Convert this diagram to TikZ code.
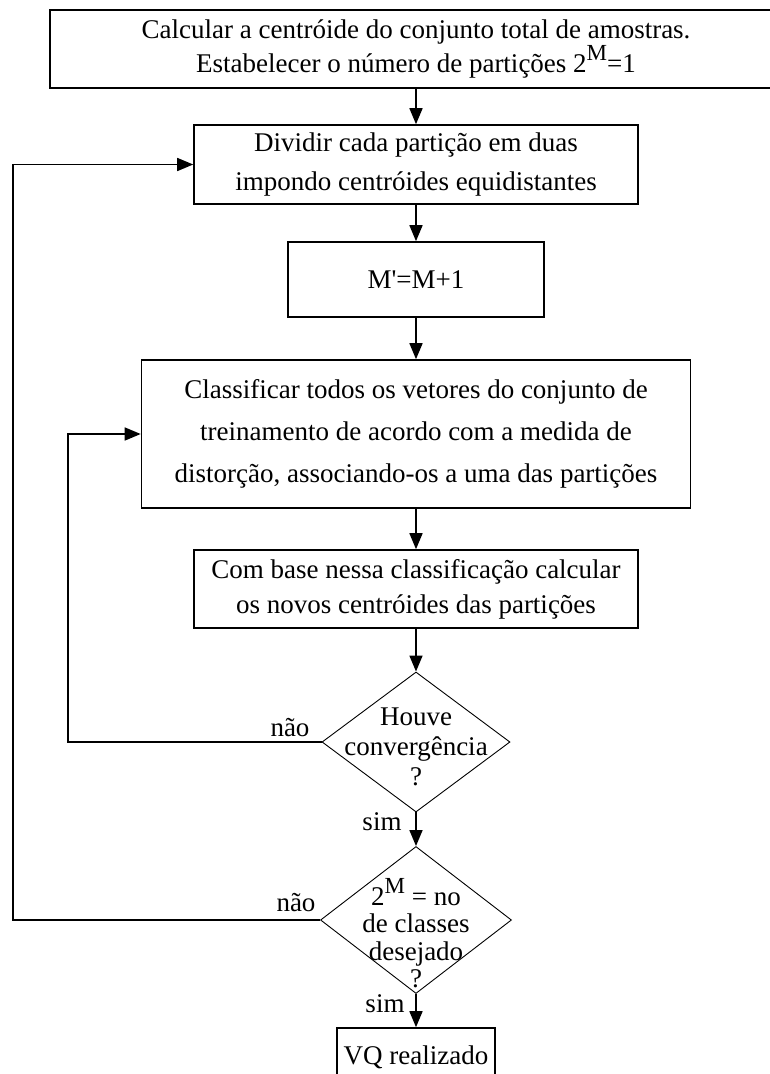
\documentclass[tikz,border=0pt]{standalone}
\usepackage{fontspec}
\setmainfont{Liberation Serif}
\newfontfamily\plainserif{Liberation Serif}
\usetikzlibrary{arrows.meta,shapes.geometric}
\newcommand{\supM}{\raisebox{0.45em}{\fontsize{23}{23}\selectfont M}}
\begin{document}
\begin{tikzpicture}[x=1pt,y=-1pt,
  box/.style={draw,line width=1.6pt,inner sep=0pt,align=center},
  dia/.style={draw,diamond,line width=0.9pt,inner sep=0pt},
  txt/.style={inner sep=0pt,align=center},
  arr/.style={line width=1.6pt,-{Triangle[length=16pt,width=13pt]}},
  lbl/.style={inner sep=0pt,font=\fontsize{27}{30}\selectfont}]
\useasboundingbox (0,0) rectangle (770,1074);
\clip (0,0) rectangle (770,1074);

\node[box,minimum width=732pt,minimum height=78pt,font=\fontsize{27}{26}\selectfont] (top) at (416,49)
  {Calcular a centróide do conjunto total de amostras.\\Estabelecer o número de partições 2\supM=1};
\node[box,minimum width=444pt,minimum height=79pt,font=\fontsize{27}{39}\selectfont] (div) at (416,164.5)
  {Dividir cada partição em duas\\impondo centróides equidistantes};
\node[box,minimum width=256pt,minimum height=75pt,font=\fontsize{27}{30}\selectfont] (mm) at (416,279.5)
  {M{\plainserif '}=M+1};
\node[box,minimum width=549pt,minimum height=148pt,font=\fontsize{27}{42}\selectfont] (cls) at (416,434)
  {Classificar todos os vetores do conjunto de\\treinamento de acordo com a medida de\\distorção, associando-os a uma das partições};
\node[box,minimum width=444pt,minimum height=78pt,font=\fontsize{27}{35}\selectfont] (cb) at (416,589)
  {Com base nessa classificação calcular\\os novos centróides das partições};

\node[dia,minimum width=188pt,minimum height=140pt] (d1) at (416,742) {};
\node[txt,font=\fontsize{27}{30}\selectfont] (d1t) at (416,747) {Houve\\convergência\\?};
\node[dia,minimum width=191pt,minimum height=147pt] (d2) at (416,920) {};
\node[txt,font=\fontsize{27}{27.5}\selectfont] (d2t) at (416,933) {2\supM{} = no\\de classes\\desejado\\?};

\node[box,minimum width=158pt,minimum height=58pt,font=\fontsize{27}{30}\selectfont] (vq) at (416,1057) {VQ realizado};

\draw[arr] (top.south) -- (div.north);
\draw[arr] (div.south) -- (mm.north);
\draw[arr] (mm.south) -- (cls.north);
\draw[arr] (cls.south) -- (cb.north);
\draw[arr] (cb.south) -- (d1.north);
\draw[arr] (d1.south) -- (d2.north);
\draw[arr] (d2.south) -- (vq.north);

\coordinate (c1) at (68,434);
\coordinate (c2) at (13,164.5);
\draw[arr] (d1.west) -| (c1) -- (cls.west);
\draw[arr] (d2.west) -| (c2) -- (div.west);

\node[lbl] (n1) at (290,728) {não};
\node[lbl] (n2) at (296,903) {não};
\node[lbl] (s1) at (382,822) {sim};
\node[lbl] (s2) at (385,1004) {sim};
\end{tikzpicture}
\end{document}
